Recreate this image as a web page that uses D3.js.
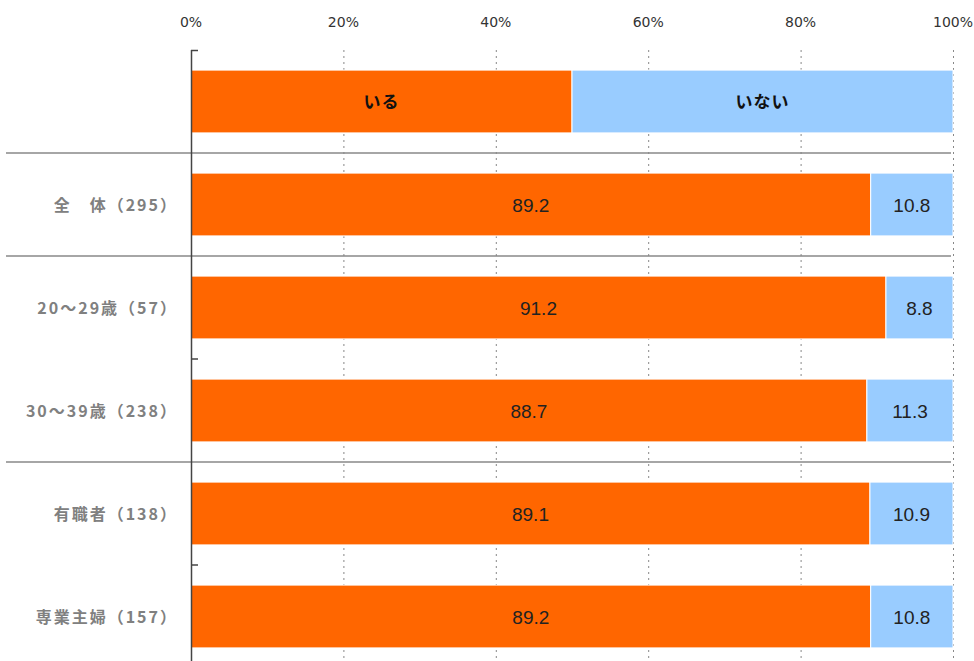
<html>
<head>
<meta charset="utf-8">
<style>
  body { margin: 0; background: #fff; }
  text { font-family: "Noto Sans CJK JP", "Noto Sans", sans-serif; }
</style>
</head>
<body>
<svg width="974" height="661"></svg>
<script src="https://d3js.org/d3.v7.min.js"></script>
<script>
var categories = ["全　体（295）", "20～29歳（57）", "30～39歳（238）", "有職者（138）", "専業主婦（157）"];
var iru   = [89.2, 91.2, 88.7, 89.1, 89.2];
var inai  = [10.8, 8.8, 11.3, 10.9, 10.8];
var seriesNames = ["いる", "いない"];
var seriesColors = ["#ff6600", "#99ccff"];
var xTicks = [0, 20, 40, 60, 80, 100];
// rows after which a group separator is drawn
var groupEnds = ["legend", "全　体（295）", "30～39歳（238）"];

var svg = d3.select("svg");

var x = d3.scaleLinear().domain([0, 100]).range([191, 953]);
var y = d3.scaleBand()
  .domain(["legend"].concat(categories))
  .range([50, 668])
  .paddingInner(0.39)
  .paddingOuter(0.195);

// top axis labels
svg.append("g").selectAll("text").data(xTicks).enter().append("text")
  .attr("x", d => x(d))
  .attr("y", 27)
  .attr("text-anchor", "middle")
  .attr("font-size", 14)
  .attr("fill", "#333")
  .style("font-family", "'DejaVu Sans', sans-serif")
  .text(d => d + "%");

// dotted grid
svg.append("g").selectAll("line").data(xTicks.slice(1)).enter().append("line")
  .attr("x1", d => x(d) + 0.5).attr("x2", d => x(d) + 0.5)
  .attr("y1", 50).attr("y2", 661)
  .attr("stroke", "#888")
  .attr("stroke-width", 1)
  .attr("stroke-dasharray", "2,4");

// separators
var rowStep = y.step();
svg.append("g").selectAll("line").data(groupEnds).enter().append("line")
  .attr("x1", 6).attr("x2", 951)
  .attr("y1", d => y(d) - y.paddingOuter() * rowStep + rowStep)
  .attr("y2", d => y(d) - y.paddingOuter() * rowStep + rowStep)
  .attr("stroke", "#888")
  .attr("stroke-width", 1.5);

// legend bar
var legendData = [{ name: seriesNames[0], x0: 0, x1: 50, c: seriesColors[0] },
                  { name: seriesNames[1], x0: 50, x1: 100, c: seriesColors[1] }];
var lg = svg.append("g");
lg.selectAll("rect").data(legendData).enter().append("rect")
  .attr("x", d => x(d.x0)).attr("width", d => x(d.x1) - x(d.x0))
  .attr("y", y("legend")).attr("height", y.bandwidth())
  .attr("fill", d => d.c).attr("stroke", "#fff").attr("stroke-width", 1);
lg.selectAll("text").data(legendData).enter().append("text")
  .attr("x", d => (x(d.x0) + x(d.x1)) / 2)
  .attr("y", y("legend") + y.bandwidth() / 2 + 6)
  .attr("text-anchor", "middle")
  .attr("font-size", 17).attr("font-weight", "bold").attr("fill", "#111")
  .attr("letter-spacing", 1)
  .text(d => d.name);

// data bars
var rows = categories.map((c, i) => ({ cat: c, segs: [
  { v: iru[i], x0: 0, x1: iru[i], c: seriesColors[0] },
  { v: inai[i], x0: iru[i], x1: iru[i] + inai[i], c: seriesColors[1] }
]}));
var rg = svg.append("g").selectAll("g").data(rows).enter().append("g");
rg.selectAll("rect").data(d => d.segs.map(s => Object.assign({ cat: d.cat }, s))).enter().append("rect")
  .attr("x", d => x(d.x0)).attr("width", d => x(d.x1) - x(d.x0))
  .attr("y", d => y(d.cat)).attr("height", y.bandwidth())
  .attr("fill", d => d.c).attr("stroke", "#fff").attr("stroke-width", 1);
rg.selectAll("text").data(d => d.segs.map(s => Object.assign({ cat: d.cat }, s))).enter().append("text")
  .attr("x", d => (x(d.x0) + x(d.x1)) / 2)
  .attr("y", d => y(d.cat) + y.bandwidth() / 2 + 7)
  .attr("text-anchor", "middle")
  .attr("font-size", 19).attr("fill", "#222")
  .style("font-family", "'Liberation Sans', sans-serif")
  .text(d => d.v.toFixed(1));

// category labels
svg.append("g").selectAll("text").data(categories).enter().append("text")
  .attr("x", 178)
  .attr("y", d => y(d) + y.bandwidth() / 2 + 6)
  .attr("text-anchor", "end")
  .attr("font-size", 16).attr("font-weight", "bold").attr("fill", "#808080")
  .attr("letter-spacing", 2)
  .text(d => d);

// left axis
var yAxis = svg.append("g");
yAxis.append("line")
  .attr("x1", 191.5).attr("x2", 191.5).attr("y1", 50).attr("y2", 661)
  .attr("stroke", "#444").attr("stroke-width", 1.5);
var tickRows = ["legend", "20～29歳（57）", "有職者（138）"];
yAxis.selectAll(".tk").data(tickRows).enter().append("line")
  .attr("class", "tk")
  .attr("x1", 191).attr("x2", 198)
  .attr("y1", (d, i) => i === 0 ? 50.5 : y(d) - y.paddingOuter() * rowStep + rowStep)
  .attr("y2", (d, i) => i === 0 ? 50.5 : y(d) - y.paddingOuter() * rowStep + rowStep)
  .attr("stroke", "#444").attr("stroke-width", 1.5);
</script>
</body>
</html>
